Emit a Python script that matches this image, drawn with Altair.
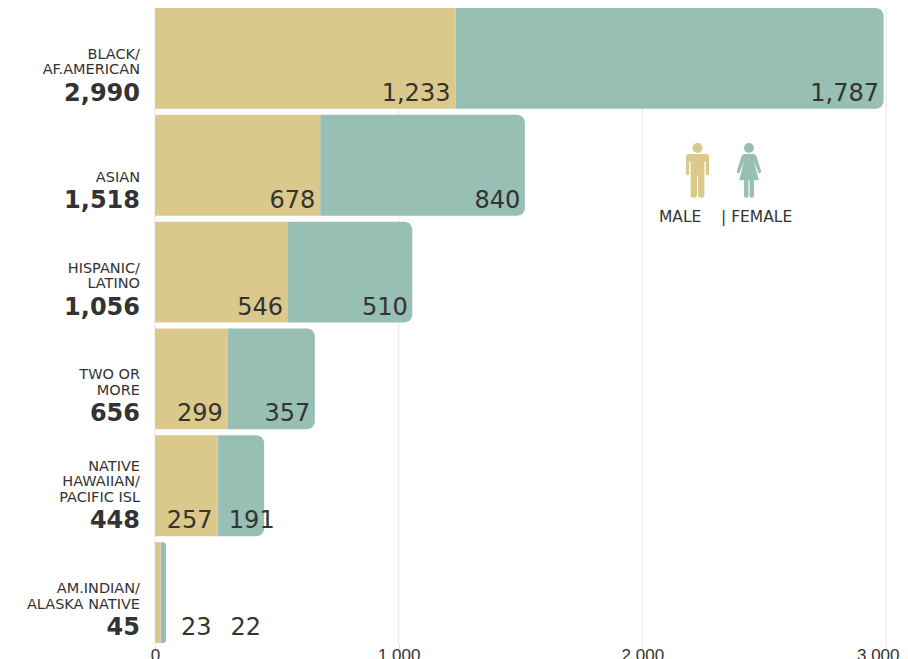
import altair as alt
import pandas as pd

categories = ["BLACK/\nAF.AMERICAN", "ASIAN", "HISPANIC/\nLATINO", "TWO OR\nMORE",
              "NATIVE\nHAWAIIAN/\nPACIFIC ISL", "AM.INDIAN/\nALASKA NATIVE"]
keys = ["black", "asian", "hispanic", "two", "native", "amindian"]
male = [1233, 678, 546, 299, 257, 23]
female = [1787, 840, 510, 357, 191, 22]
total = [2990, 1518, 1056, 656, 448, 45]
x_ticks = [0, 1000, 2000, 3000]
legend_labels = ["MALE", "| FEMALE"]

MALE_COLOR = "#DAC98A"
FEMALE_COLOR = "#98BFB3"
TEXT_COLOR = "#333333"
GRID_COLOR = "#E6E6E6"
FONT = "DejaVu Sans"

df = pd.DataFrame({"key": keys, "cat": categories, "male": male, "female": female, "total": total})
icon_df = pd.DataFrame({"label": legend_labels})

x_scale = alt.Scale(domain=[0, 3000], nice=False)
y_enc = alt.Y("key:N", sort=keys, axis=None,
              scale=alt.Scale(paddingInner=0.056, paddingOuter=0))
y_low = alt.Y("key:N", sort=keys, axis=None, bandPosition=1,
              scale=alt.Scale(paddingInner=0.056, paddingOuter=0))

x_axis = alt.Axis(values=x_ticks, format=",.0f", grid=False, domain=False, ticks=True, title=None,
                  tickColor=GRID_COLOR, tickSize=8, labelPadding=-4, labelFont="Liberation Sans",
                  labelFontSize=17, labelColor=TEXT_COLOR, labelAngle=0, labelOverlap=False,
                  labelAlign=alt.expr("datum.value == 3000 ? 'right' : 'center'"),
                  labelOffset=alt.expr("datum.value == 3000 ? 13 : 0"),
                  labelFlush=False)


def qx(field):
    return alt.X(field, scale=x_scale, axis=x_axis)


grid = alt.Chart(pd.DataFrame({"v": x_ticks})).mark_rule(color=GRID_COLOR, strokeWidth=1).encode(x=qx("v:Q"))

female_bar = alt.Chart(df).mark_bar(color=FEMALE_COLOR, cornerRadiusTopRight=8, cornerRadiusBottomRight=8).encode(
    x=qx("total:Q"), x2=alt.X2("male:Q"), y=y_enc)
male_bar = alt.Chart(df).mark_bar(color=MALE_COLOR).encode(
    x=qx("male:Q"), x2=alt.datum(0), y=y_enc)


def value_label(field, anchor, dx, selected):
    return alt.Chart(df).transform_filter(
        alt.FieldOneOfPredicate(field="key", oneOf=selected)
    ).mark_text(align="right", baseline="alphabetic", dx=dx, dy=-8, font=FONT, fontSize=24,
                fontWeight=400, color=TEXT_COLOR).encode(
        x=qx(anchor), y=y_low, text=alt.Text(field + ":Q", format=","))


def cat_label(dy, selected):
    return alt.Chart(df).transform_filter(
        alt.FieldOneOfPredicate(field="key", oneOf=selected)
    ).mark_text(align="right", baseline="alphabetic", dy=dy, font=FONT, fontSize=14.5,
                fontWeight=400, lineBreak="\n", lineHeight=15.5, color=TEXT_COLOR).encode(
        x=alt.value(-15), y=y_low, text="cat:N")


labels = [
    value_label("male", "male:Q", -5, keys[:5]),
    value_label("female", "total:Q", -4.5, keys[:4]),
    value_label("female", "total:Q", 10.5, ["native"]),
    value_label("male", "male:Q", 51, ["amindian"]),
    value_label("female", "total:Q", 95, ["amindian"]),
    cat_label(-34, ["asian"]),
    cat_label(-50, ["black", "hispanic", "two", "amindian"]),
    cat_label(-65.5, ["native"]),
]

total_text = alt.Chart(df).mark_text(align="right", baseline="alphabetic", dy=-8, font=FONT, fontSize=24,
                                     fontWeight=700, color=TEXT_COLOR).encode(
    x=alt.value(-15), y=y_low, text=alt.Text("total:Q", format=","))

MALE_ICON = ("M0-1A.18.18 0 1 1 0-.64A.18.18 0 1 1 0-1Z"
             "M-.3-.6H.3Q.42-.6.42-.48V.11Q.42.17.36.17Q.3.17.3.11V-.32H.25V.9Q.25.99.13.99Q.02.99.02.9V.18H-.02V.9"
             "Q-.02.99-.13.99Q-.25.99-.25.9V-.32H-.3V.11Q-.3.17-.36.17Q-.42.17-.42.11V-.48Q-.42-.6-.3-.6Z")
FEMALE_ICON = ("M0-1A.18.18 0 1 1 0-.64A.18.18 0 1 1 0-1Z"
               "M-.16-.6H.16Q.24-.6.28-.5L.44.03Q.45.08.4.1Q.36.11.34.07L.17-.35L.36.35H.18V.92Q.18.99.1.99Q.02.99.02.92V.35"
               "H-.02V.92Q-.02.99-.1.99Q-.18.99-.18.92V.35H-.36L-.17-.35L-.34.07Q-.36.11-.4.1Q-.45.08-.44.03L-.28-.5Q-.24-.6-.16-.6Z")

male_icon = alt.Chart(icon_df).transform_filter("datum.label == 'MALE'").mark_point(
    filled=True, opacity=1, color=MALE_COLOR, strokeWidth=0).encode(
    x=alt.value(542.5), y=alt.value(162.5), shape=alt.value(MALE_ICON), size=alt.value(3025))
female_icon = alt.Chart(icon_df).transform_filter("datum.label == 'MALE'").mark_point(
    filled=True, opacity=1, color=FEMALE_COLOR, strokeWidth=0).encode(
    x=alt.value(594), y=alt.value(162.5), shape=alt.value(FEMALE_ICON), size=alt.value(3025))
legend_male = alt.Chart(icon_df).transform_filter("datum.label == 'MALE'").mark_text(
    align="left", baseline="alphabetic", font=FONT, fontSize=15.5, color=TEXT_COLOR).encode(
    x=alt.value(504), y=alt.value(214), text="label:N")
legend_female = alt.Chart(icon_df).transform_filter("datum.label != 'MALE'").mark_text(
    align="left", baseline="alphabetic", font=FONT, fontSize=15.5, color=TEXT_COLOR).encode(
    x=alt.value(566), y=alt.value(214), text="label:N")

chart = alt.layer(grid, female_bar, male_bar, *labels, total_text, male_icon, female_icon,
                  legend_male, legend_female).resolve_scale(
    x="shared", y="shared"
).properties(
    width=731, height=635, background="white",
    padding={"left": 147, "top": 0, "right": 14, "bottom": 16},
    autosize=alt.AutoSizeParams(type="none"),
).configure_view(stroke=None)

chart.save("out.html", embed_options={"renderer": "svg", "actions": False})
